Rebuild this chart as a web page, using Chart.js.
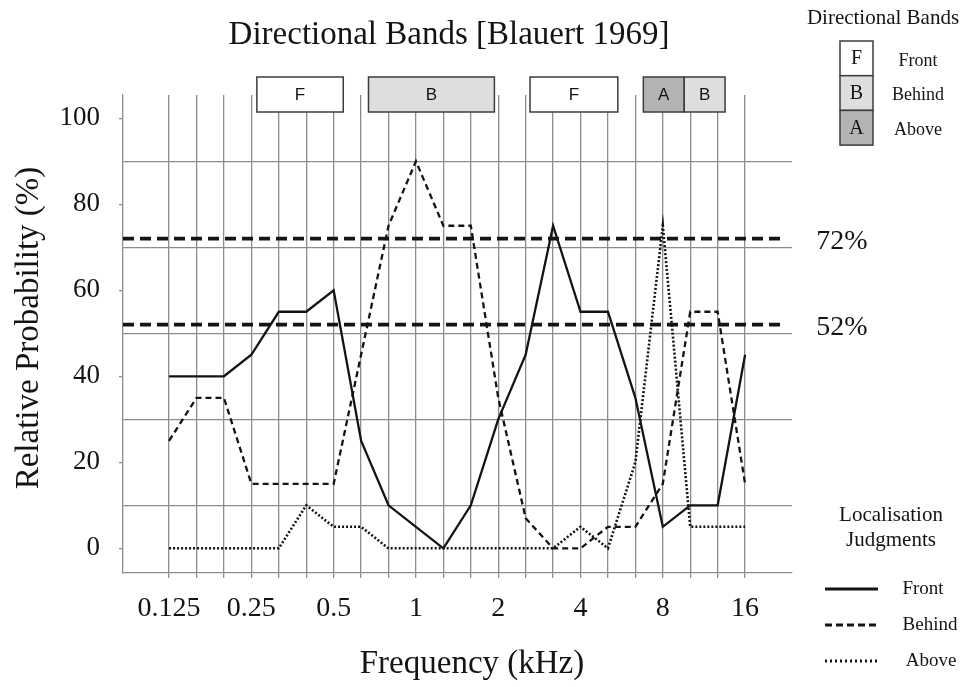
<!DOCTYPE html>
<html>
<head>
<meta charset="utf-8">
<title>Directional Bands [Blauert 1969]</title>
<script src="https://cdn.jsdelivr.net/npm/chart.js@4.4.1/dist/chart.umd.min.js"></script>
<style>
  html, body { margin: 0; padding: 0; background: #fff; }
</style>
</head>
<body>
<canvas id="chart" width="963" height="687"></canvas>
<script>
// third-octave centre frequencies (kHz), one per vertical gridline
const freqs = ['0.125','0.16','0.2','0.25','0.315','0.4','0.5','0.63','0.8','1','1.25','1.6','2','2.5','3.15','4','5','6.3','8','10','12.5','16'];
// only the octaves get a label
const tickLabels = ['0.125','','','0.25','','','0.5','','','1','','','2','','','4','','','8','','','16'];

// localisation judgments, relative probability (%)
const front  = [40,40,40,45,55,55,60,25,10,5,0,10,30,45,75,55,55,35,5,10,10,45];
const behind = [25,35,35,15,15,15,15,45,75,90,75,75,35,7,0,0,5,5,15,55,55,15];
const above  = [0,0,0,0,0,10,5,5,0,0,0,0,0,0,0,5,0,20,75,5,5,5];

// reference levels
const refLevels = [72, 52];

// directional bands, in gridline-index units
const bandLabels = ['F','B','F','A','B'];
const bandStart  = [3.2, 7.27, 13.16, 17.29, 18.78];
const bandEnd    = [6.35, 11.86, 16.36, 18.78, 20.27];
const bandFill   = { F: '#ffffff', B: '#dedede', A: '#b3b3b3' };
const bandNames  = { F: 'Front', B: 'Behind', A: 'Above' };

const X_MIN = -1.68, X_MAX = 22.71;
const GRID = '#8c8c8c';
const INK = '#141414';
const SERIF = '"Liberation Serif", "Times New Roman", serif';

const toPoints = arr => arr.map((v, i) => ({ x: i, y: v }));

const datasets = [
    { label: 'Front',  data: toPoints(front),  borderColor: INK, borderWidth: 2.3, borderDash: [] },
    { label: 'Behind', data: toPoints(behind), borderColor: INK, borderWidth: 2.3, borderDash: [6, 4] },
    { label: 'Above',  data: toPoints(above),  borderColor: INK, borderWidth: 2.6, borderDash: [2, 2] },
];
refLevels.forEach(level => {
    datasets.push({
        label: level + '%',
        data: [{ x: X_MIN, y: level }, { x: 22.46, y: level }],
        borderColor: INK, borderWidth: 3.6, borderDash: [11, 6]
    });
});
datasets.forEach(d => { d.pointRadius = 0; d.tension = 0; d.fill = false; });

function text(ctx, str, x, y, font, align) {
    ctx.font = font;
    ctx.fillStyle = INK;
    ctx.textAlign = align || 'center';
    ctx.textBaseline = 'middle';
    ctx.fillText(str, x, y);
}

// title, axis titles, bands, side legends
const decorations = {
    id: 'decorations',
    afterDraw(chart) {
        const ctx = chart.ctx;
        const xs = chart.scales.x, ys = chart.scales.y;
        ctx.save();

        text(ctx, 'Directional Bands [Blauert 1969]', 449, 35, '33px ' + SERIF);
        text(ctx, 'Frequency (kHz)', 472, 664, '33px ' + SERIF);

        ctx.save();
        ctx.translate(29, 328);
        ctx.rotate(-Math.PI / 2);
        text(ctx, 'Relative Probability (%)', 0, 0, '33px ' + SERIF);
        ctx.restore();

        refLevels.forEach(level => {
            text(ctx, level + '%', 842, ys.getPixelForValue(level) + 3, '28px ' + SERIF);
        });

        // band boxes over the top of the grid
        bandLabels.forEach((lab, i) => {
            const x0 = xs.getPixelForValue(bandStart[i]);
            const x1 = xs.getPixelForValue(bandEnd[i]);
            ctx.fillStyle = bandFill[lab];
            ctx.fillRect(x0, 77, x1 - x0, 35);
            ctx.strokeStyle = '#3c3c3c';
            ctx.lineWidth = 1.5;
            ctx.strokeRect(x0, 77, x1 - x0, 35);
            text(ctx, lab, (x0 + x1) / 2, 95, '17px "Liberation Sans", sans-serif');
        });

        // directional band key
        text(ctx, 'Directional Bands', 883, 18, '21px ' + SERIF);
        ['F', 'B', 'A'].forEach((lab, i) => {
            const top = 41 + i * 34.7;
            ctx.fillStyle = bandFill[lab];
            ctx.fillRect(840, top, 33, 34.7);
            ctx.strokeStyle = '#3c3c3c';
            ctx.lineWidth = 1.5;
            ctx.strokeRect(840, top, 33, 34.7);
            text(ctx, lab, 856.5, top + 18, '20px ' + SERIF);
            text(ctx, bandNames[lab], 918, top + 20, '18px ' + SERIF);
        });

        // localisation judgment key, line styles taken from the datasets
        text(ctx, 'Localisation', 891, 515, '21px ' + SERIF);
        text(ctx, 'Judgments', 891, 540, '21px ' + SERIF);
        const keyY = [589, 625, 661];
        const keyX = [923, 930, 931];
        const keyDash = [[], [7, 4], [2, 3]];
        [0, 1, 2].forEach(i => {
            const d = chart.data.datasets[i];
            ctx.beginPath();
            ctx.strokeStyle = INK;
            ctx.lineWidth = d.borderWidth + 0.6;
            ctx.setLineDash(keyDash[i]);
            ctx.moveTo(825, keyY[i]);
            ctx.lineTo(878, keyY[i]);
            ctx.stroke();
            ctx.setLineDash([]);
            text(ctx, d.label, keyX[i], keyY[i], '19px ' + SERIF);
        });

        ctx.restore();
    }
};

new Chart(document.getElementById('chart').getContext('2d'), {
    type: 'line',
    data: { datasets: datasets },
    options: {
        responsive: false,
        animation: false,
        layout: { padding: { top: 95, right: 171, bottom: 0, left: 0 } },
        plugins: {
            legend: { display: false },
            title: { display: false },
            tooltip: { enabled: false }
        },
        scales: {
            x: {
                type: 'linear',
                min: X_MIN,
                max: X_MAX,
                afterBuildTicks: s => { s.ticks = freqs.map((f, i) => ({ value: i })); },
                afterFit: s => { s.height = 114; },
                grid: { color: GRID, lineWidth: 1.3, tickLength: 5 },
                border: { color: GRID, width: 1.3 },
                ticks: {
                    autoSkip: false,
                    maxRotation: 0,
                    padding: 14,
                    color: INK,
                    font: { family: SERIF, size: 28 },
                    callback: v => tickLabels[Math.round(v)] || ''
                }
            },
            y: {
                min: -5.74,
                max: 105.4,
                afterBuildTicks: s => { s.ticks = [0,10,20,30,40,50,60,70,80,90,100].map(v => ({ value: v })); },
                afterFit: s => { s.width = 123; },
                grid: {
                    lineWidth: 1.3,
                    tickLength: 4,
                    color: c => (c.tick && c.tick.value % 20 === 10) ? GRID : 'rgba(0,0,0,0)',
                    tickColor: c => (c.tick && c.tick.value % 20 === 0) ? GRID : 'rgba(0,0,0,0)'
                },
                border: { color: GRID, width: 1.3 },
                ticks: {
                    autoSkip: false,
                    padding: 19,
                    color: INK,
                    font: { family: SERIF, size: 27 },
                    callback: v => (v % 20 === 0 ? v : '')
                }
            }
        }
    },
    plugins: [decorations]
});
</script>
</body>
</html>
